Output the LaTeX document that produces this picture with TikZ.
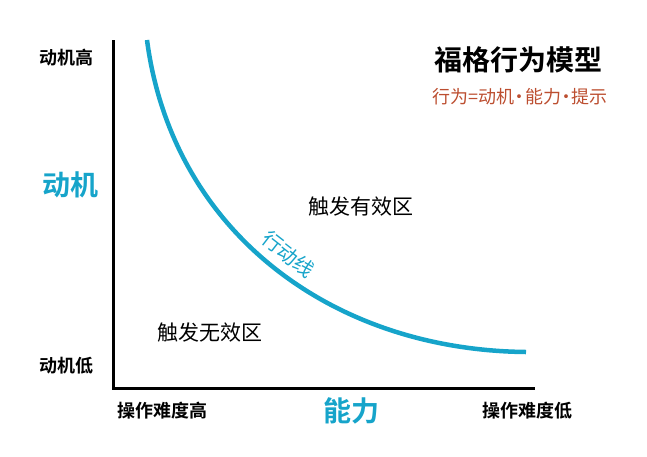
\documentclass[tikz,border=0pt]{standalone}
\usepackage{fontspec}
\setmainfont{Noto Sans CJK SC}[BoldFont={Noto Sans CJK SC Bold}]
\definecolor{linecyan}{RGB}{22,164,202}
\definecolor{formulared}{RGB}{188,78,48}
\newcommand\middot{\kern-0.22em·\kern-0.22em}
\begin{document}
\begin{tikzpicture}[x=1pt,y=-1pt,
	axislbl/.style={font=\fontsize{18}{20}\selectfont\bfseries,inner sep=0pt},
	bigcyan/.style={font=\fontsize{28}{30}\selectfont\bfseries,text=linecyan,inner sep=0pt},
	zonelbl/.style={font=\fontsize{21}{23}\selectfont,inner sep=0pt}]
	\useasboundingbox (0,0) rectangle (647,456);
	\coordinate (ytop) at (113,40);
	\coordinate (o) at (113,388);
	\coordinate (xend) at (535,388);
	\draw[line width=3pt] (ytop) -- (o) -- (xend);
	\coordinate (ctop) at (147,40);
	\coordinate (cend) at (526,352);
	\draw[linecyan,line width=4.5pt] (ctop) .. controls (172,230) and (330,350) .. (cend)
		node[pos=0.51,sloped,above=8pt,font=\fontsize{20}{22}\selectfont,text=linecyan,inner sep=0pt] (lbl) {行动线};
	% axis texts
	\node[axislbl] at (66,58)	(mhigh) {动机高};
	\node[bigcyan] at (70,185)	(motiv) {动机};
	\node[axislbl] at (66,366)	(mlow) {动机低};
	\node[axislbl] at (162,411)	(hard) {操作难度高};
	\node[bigcyan] at (351,411)	(abil) {能力};
	\node[axislbl] at (527,411)	(easy) {操作难度低};
	% title
	\node[font=\fontsize{28}{30}\selectfont\bfseries,inner sep=0pt] at (518,60) (title) {福格行为模型};
	\node[font=\fontsize{18}{20}\selectfont,text=formulared,inner sep=0pt] at (520,97) (formula) {行为=动机\middot 能力\middot 提示};
	% zones
	\node[zonelbl] at (361,207)	(valid) {触发有效区};
	\node[zonelbl] at (210,332)	(invalid) {触发无效区};
\end{tikzpicture}
\end{document}
